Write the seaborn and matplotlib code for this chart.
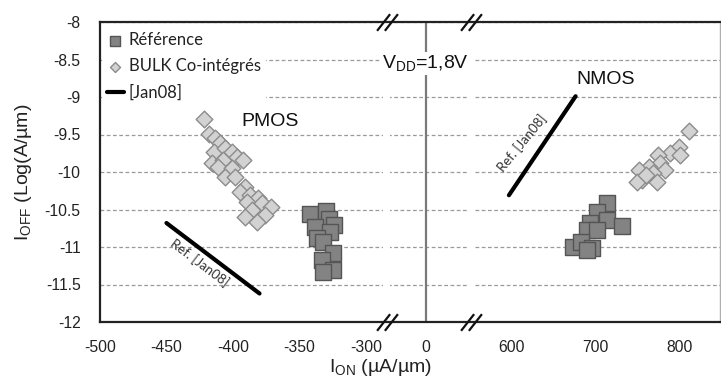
import numpy as np
import pandas as pd
import matplotlib
matplotlib.use("Agg")
import matplotlib.pyplot as plt
import seaborn as sns
from matplotlib.path import Path

# ---------------- data ----------------
pmos_ref_x = [-342, -330, -328, -324, -338, -327, -337, -332, -325, -333, -325, -332]
pmos_ref_y = [-10.56, -10.52, -10.63, -10.71, -10.73, -10.80, -10.88, -10.93, -11.08, -11.17, -11.31, -11.33]

pmos_bulk_x = [-422, -418, -413.5, -410, -414, -406, -401, -397, -392.5, -416, -407.5, -411,
               -401, -406, -398.5, -391, -395, -387, -381, -389.5, -378, -371, -386, -391, -376, -382]
pmos_bulk_y = [-9.29, -9.49, -9.55, -9.61, -9.73, -9.68, -9.73, -9.80, -9.84, -9.88, -9.84, -9.93,
               -9.95, -10.07, -10.07, -10.20, -10.27, -10.31, -10.35, -10.40, -10.41, -10.47, -10.51, -10.60, -10.57, -10.67]

nmos_ref_x = [714, 702, 714, 731, 693, 690, 701, 673, 683, 696, 689]
nmos_ref_y = [-10.41, -10.53, -10.64, -10.72, -10.68, -10.77, -10.77, -11.00, -10.93, -11.01, -11.04]

nmos_bulk_x = [811, 799, 788, 774, 800, 776, 764, 752, 782, 768, 755, 773, 749, 760]
nmos_bulk_y = [-9.45, -9.67, -9.75, -9.77, -9.77, -9.88, -9.93, -9.97, -9.97, -10.01, -10.11, -10.13, -10.13, -10.04]

pmos_jan08_x = [-450, -380]
pmos_jan08_y = [-10.68, -11.62]
nmos_jan08_x = [580, 676]
nmos_jan08_y = [-10.31, -8.99]

xticks = [-500, -450, -400, -350, -300, 0, 600, 700, 800]
xtick_labels = ["-500", "-450", "-400", "-350", "-300", "0", "600", "700", "800"]
yticks = [-12, -11.5, -11, -10.5, -10, -9.5, -9, -8.5, -8]
ytick_labels = ["-12", "-11.5", "-11", "-10.5", "-10", "-9.5", "-9", "-8.5", "-8"]

# broken-axis mapping (data -> display units)
brk_x = [-1500, -500, -300, 0, 600, 850, 2000]
brk_u = [-1330, 0, 266, 326, 412, 622, 1588]
breaks = [-195, 314]

# ---------------- style ----------------
sns.set_theme(style="white")
plt.rcParams['font.family'] = ['Liberation Sans', 'DejaVu Sans']
plt.rcParams['mathtext.fontset'] = 'custom'
plt.rcParams['mathtext.rm'] = 'Liberation Sans'
plt.rcParams['mathtext.it'] = 'Liberation Sans:italic'
plt.rcParams['mathtext.bf'] = 'Liberation Sans:bold'

fig = plt.figure(figsize=(7.21, 3.83), dpi=100)
ax = fig.add_axes([100 / 721, 61 / 383, 620 / 721, 300 / 383])

fwd = lambda x: np.interp(x, brk_x, brk_u)
inv = lambda u: np.interp(u, brk_u, brk_x)
ax.set_xscale('function', functions=(fwd, inv))
ax.set_xlim(-500, 848)
ax.set_ylim(-12, -8)

# data frames
df_ref = pd.DataFrame({"x": pmos_ref_x + nmos_ref_x, "y": pmos_ref_y + nmos_ref_y})
df_bulk = pd.DataFrame({"x": pmos_bulk_x + nmos_bulk_x, "y": pmos_bulk_y + nmos_bulk_y})
df_lp = pd.DataFrame({"x": pmos_jan08_x, "y": pmos_jan08_y})
df_ln = pd.DataFrame({"x": nmos_jan08_x, "y": nmos_jan08_y})

# grid
ax.yaxis.grid(True, color="#9a9a9a", linestyle=(0, (3, 2)), linewidth=0.9)
ax.xaxis.grid(False)

# white gaps at breaks
for b, w in zip(breaks, [17, 24]):
    ax.axvspan(b - w, b + w, color="white", zorder=1.6, lw=0)

# vertical line at 0
ax.axvline(0, color="#7a7a7a", lw=1.6, zorder=1.7)

sns.scatterplot(data=df_ref, x="x", y="y", marker="s", s=145, color="#838383",
                edgecolor="#555555", linewidth=1.0, ax=ax, label="Référence", zorder=3)
sns.scatterplot(data=df_bulk, x="x", y="y", marker="D", s=72, color="#d2d2d2",
                edgecolor="#8c8c8c", linewidth=1.0, ax=ax, label="BULK Co-intégrés", zorder=3)
sns.lineplot(data=df_lp, x="x", y="y", color="black", lw=3, ax=ax, label="[Jan08]", zorder=3)
sns.lineplot(data=df_ln, x="x", y="y", color="black", lw=3, ax=ax, zorder=3)

# annotations
ax.text(-372, -9.33, "PMOS", fontsize=14, ha="center", va="center", color="#111111")
ax.text(712, -8.77, "NMOS", fontsize=14, ha="center", va="center", color="#111111")
ax.text(0, -8.55, r"V$_{\rm DD}$=1,8V", fontsize=14, ha="center", va="center", color="#111111",
        bbox=dict(facecolor="white", edgecolor="none", pad=1), zorder=4)
ax.text(-425, -11.21, "Ref. [Jan08]", fontsize=9.5, rotation=-37, ha="center", va="center",
        color="#333333", family=["Lato", "DejaVu Sans"], rotation_mode="anchor")
ax.text(612, -9.61, "Ref. [Jan08]", fontsize=9.5, rotation=50.7, ha="center", va="center",
        color="#333333", family=["Lato", "DejaVu Sans"], rotation_mode="anchor")

# ticks
ax.set_xticks(xticks)
ax.set_xticklabels(xtick_labels)
ax.set_yticks(yticks)
ax.set_yticklabels(ytick_labels)
ax.minorticks_off()
ax.tick_params(axis="x", direction="in", length=5, width=1.3, color="#222222",
               pad=13, labelsize=11.3, labelcolor="#222222")
ax.tick_params(axis="y", length=0, pad=14, labelsize=11.3, labelcolor="#222222")

# spines
for side in ["left", "bottom", "top"]:
    ax.spines[side].set_color("#222222")
    ax.spines[side].set_linewidth(1.6)
ax.spines["right"].set_color("#b0b0b0")
ax.spines["right"].set_linewidth(1.0)

# break marks
brk_path = Path([(-1.0, -0.8), (0.25, 0.8), (-0.25, -0.8), (1.0, 0.8)],
                [Path.MOVETO, Path.LINETO, Path.MOVETO, Path.LINETO])
for yb in [0, 1]:
    ax.plot(breaks, [yb, yb], transform=ax.get_xaxis_transform(), marker=brk_path,
            markersize=15, linestyle="none", color="#111111", mew=1.6,
            markerfacecolor="none", clip_on=False, zorder=5)

# labels
ax.set_xlabel(r"I$_{\rm ON}$ (µA/µm)", fontsize=14, color="#222222")
ax.xaxis.set_label_coords(0.453, -0.117)
ax.xaxis.label.set_va("top")
ax.set_ylabel(r"I$_{\rm OFF}$ (Log(A/µm)", fontsize=14, color="#222222")
ax.yaxis.set_label_coords(-0.106, 0.5)

# legend
h, l = ax.get_legend_handles_labels()
order = ["Référence", "BULK Co-intégrés", "[Jan08]"]
hh = [h[l.index(o)] for o in order]
leg = ax.legend(hh, order, loc="upper left", bbox_to_anchor=(-0.01, 1.01), frameon=True,
                facecolor="white", edgecolor="none", framealpha=1, markerscale=0.6,
                handlelength=1.0, handletextpad=0.3, labelspacing=0.6, borderpad=0.3,
                prop={"family": ["Lato", "DejaVu Sans"], "size": 12})
for t in leg.get_texts():
    t.set_color("#222222")

fig.savefig("out.png", dpi=100)
